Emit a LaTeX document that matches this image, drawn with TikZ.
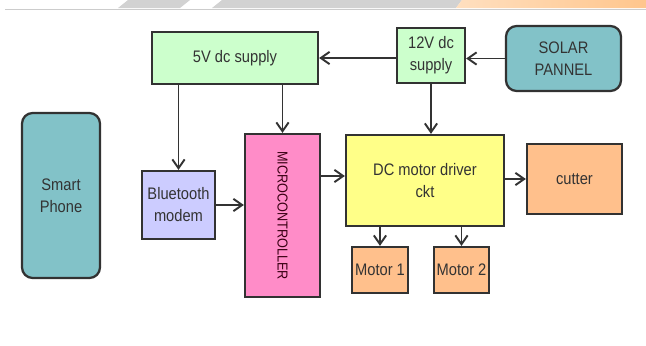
\documentclass[tikz,border=0pt]{standalone}
\usepackage{fontspec}
\setsansfont{Liberation Sans}[FakeStretch=0.88]
\usetikzlibrary{positioning, arrows.meta, calc}

\definecolor{supgreen}{RGB}{204,255,204}
\definecolor{panelteal}{RGB}{130,194,200}
\definecolor{btlilac}{RGB}{204,204,255}
\definecolor{mcupink}{RGB}{255,140,200}
\definecolor{drvyellow}{RGB}{255,255,136}
\definecolor{loadpeach}{RGB}{255,192,140}
\definecolor{edgegray}{RGB}{50,50,50}

\begin{document}
\begin{tikzpicture}[
		x=0.02cm, y=-0.02cm,
		font=\sffamily\fontsize{9.5}{12.5}\selectfont,
		% Styles
		block/.style={rectangle, draw=edgegray, line width=1.3pt, inner sep=0pt, align=center, text=black!80},
		supply/.style={block, fill=supgreen},
		source/.style={block, fill=panelteal, rounded corners=6pt},
		load/.style={block, fill=loadpeach},
		link/.style={-{Straight Barb[length=5pt, width=7pt]}, line width=1.1pt, draw=black!80}
		]
		\useasboundingbox (0,0) rectangle (646,345);
		
		% --- page header remnant ---
		\fill[gray!35] (118,8) -- (128,0) -- (190,0) -- (180,8) -- cycle;
		\fill[gray!35] (212,8) -- (222,0) -- (462,0) -- (456,8) -- cycle;
		\shade[left color=orange!25, right color=orange!45] (456,8) -- (462,0) -- (646,0) -- (646,8) -- cycle;
		\draw[gray!40, line width=0.8pt] (5,9.5) -- (646,9.5);
		
		% --- 1. Power ---
		\node[source, minimum width=2.3cm, minimum height=1.3cm] (solar) at (563.5,58.5) {SOLAR\\PANNEL};
		\node[supply, minimum width=1.36cm, minimum height=1.1cm] (suptwelve) at (431,55.5) {12V dc\\supply};
		\node[supply, minimum width=3.32cm, minimum height=1.04cm] (supfive) at (235,58) {5V dc supply};
		
		% --- 2. Control ---
		\node[source, minimum width=1.56cm, minimum height=3.3cm] (phone) at (61,195.5) {Smart\\Phone};
		\node[block, fill=btlilac, minimum width=1.46cm, minimum height=1.36cm] (bt) at (178.5,205) {Bluetooth\\modem};
		\node[block, fill=mcupink, minimum width=1.5cm, minimum height=3.26cm] (mcu) at (282.5,215.5) {};
		\node[rotate=-90, font=\sffamily\fontsize{8.2}{9}\selectfont, text=black!70!purple] at (mcu.center) {MICROCONTROLLER};
		
		% --- 3. Drive ---
		\node[block, fill=drvyellow, minimum width=3.16cm, minimum height=1.82cm] (driver) at (425,180.5) {DC motor driver\\ckt};
		\node[load, minimum width=1.9cm, minimum height=1.4cm] (cutter) at (574.5,179) {cutter};
		\node[load, minimum width=1.12cm, minimum height=0.92cm] (motorA) at (380,270) {Motor 1};
		\node[load, minimum width=1.1cm, minimum height=0.92cm] (motorB) at (461.5,270) {Motor 2};
		
		% Connections
		\draw[link] (solar.west) -- (solar.west -| suptwelve.east);
		\draw[link] (suptwelve.west |- supfive.east) -- (supfive.east);
		\draw[link] (supfive.south -| bt.north) -- (bt.north);
		\draw[link] (supfive.south -| mcu.north) -- (mcu.north);
		\draw[link] (suptwelve.south) -- (suptwelve.south |- driver.north);
		\draw[link] (bt.east) -- (bt.east -| mcu.west);
		\draw[link] ($(mcu.east |- driver.west)+(0,-4.5)$) -- ($(driver.west)+(0,-4.5)$);
		\draw[link] (driver.east |- cutter.west) -- (cutter.west);
		\draw[link] (driver.south -| motorA.north) -- (motorA.north);
		\draw[link] (driver.south -| motorB.north) -- (motorB.north);
		
	\end{tikzpicture}
\end{document}
